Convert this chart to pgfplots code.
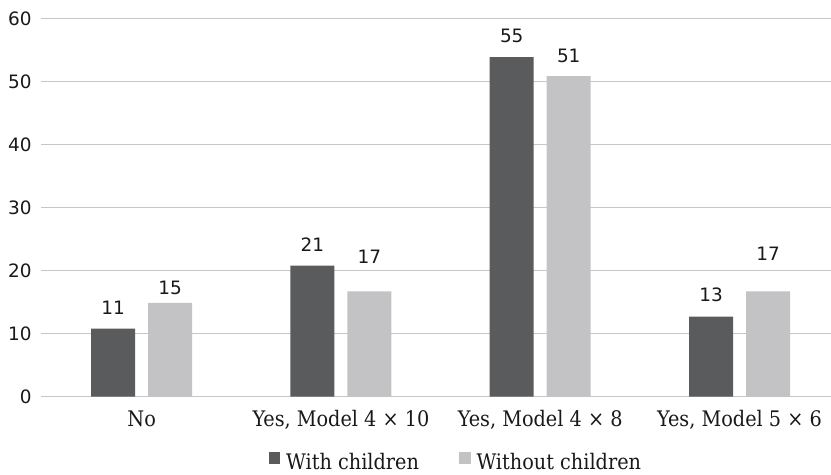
\documentclass[border=0pt]{standalone}
\usepackage{pgfplots}
\usepackage{pgfplotstable}
\pgfplotsset{compat=1.18}
\usepackage{fontspec}
\setmainfont{DejaVu Serif Condensed}
\newfontfamily\numfont{DejaVu Sans}
\definecolor{darkbar}{HTML}{5A5B5D}
\definecolor{lightbar}{HTML}{C3C3C5}
\definecolor{gridc}{HTML}{C6C6C6}
% bar heights as drawn
\pgfplotstableread{
x y
0 10.8
1 20.8
2 53.9
3 12.7
}\darktab
\pgfplotstableread{
x y
0 14.9
1 16.7
2 50.9
3 16.7
}\lighttab
% value labels: position (x of bar centre, y of text baseline) and text
\pgfplotstableread{
x y lab
-0.143 13.11 11
0.857 23.0 21
1.857 56.26 55
2.857 15.07 13
}\darklab
\pgfplotstableread{
x y lab
0.143 16.29 15
1.143 21.17 17
2.143 53.08 51
3.143 21.58 17
}\lightlab
\begin{document}
\begin{tikzpicture}
\begin{axis}[
  at={(0,0)}, anchor=south west,
  scale only axis, width=790bp, height=377.9bp,
  xmin=-0.505, xmax=3.459, ymin=0, ymax=60,
  ytick={0,10,...,60},
  xtick={0,1,2,3},
  xticklabels={No,{Yes, Model 4 × 10},{Yes, Model 4 × 8},{Yes, Model 5 × 6}},
  axis line style={draw=none},
  major tick length=0pt,
  ymajorgrids, grid style={gridc, line width=1.3bp},
  /pgf/number format/assume math mode=true,
  yticklabel style={font=\numfont\fontsize{18.5}{20}\selectfont, anchor=east, inner sep=0pt, xshift=-9.3bp, text=black!90},
  xticklabel style={font=\fontsize{21.5}{24}\selectfont, anchor=base, inner sep=0pt, yshift=-30.1bp, text=black!90},
  legend style={draw=none, fill=none, at={(0.5251,-0.1724)}, anchor=center, font=\fontsize{21.5}{24}\selectfont, text=black!90,
    legend columns=2, inner sep=0pt, /tikz/every even column/.append style={column sep=38bp},
    cells={anchor=west, inner sep=0pt}},
  legend image code/.code={\fill[#1] (0bp,-2bp) rectangle (11.6bp,9.6bp);},
  clip=false,
]
\addplot[ybar, fill=darkbar, draw=none, bar width=44bp, bar shift=-28.5bp]
  table[x=x, y=y]{\darktab};
\addlegendentry{\hspace{4bp}With children}
\addplot[ybar, fill=lightbar, draw=none, bar width=44bp, bar shift=28.5bp]
  table[x=x, y=y]{\lighttab};
\addlegendentry{\hspace{4bp}Without children}
\addplot[forget plot, draw=none, mark=none, nodes near coords, point meta=explicit symbolic,
  nodes near coords style={font=\numfont\fontsize{18.5}{20}\selectfont, anchor=base, inner sep=0pt, text=black!90}]
  table[x=x, y=y, meta=lab]{\darklab};
\addplot[forget plot, draw=none, mark=none, nodes near coords, point meta=explicit symbolic,
  nodes near coords style={font=\numfont\fontsize{18.5}{20}\selectfont, anchor=base, inner sep=0pt, text=black!90}]
  table[x=x, y=y, meta=lab]{\lightlab};
\end{axis}
\pgfresetboundingbox
\path[use as bounding box] (-41bp,-78.4bp) rectangle (790bp,396.6bp);
\end{tikzpicture}
\end{document}
